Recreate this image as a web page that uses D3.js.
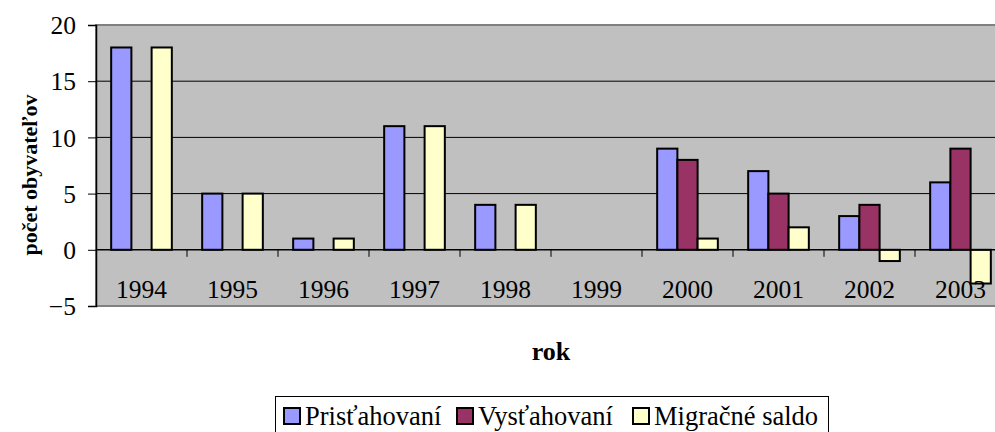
<!DOCTYPE html>
<html>
<head>
<meta charset="utf-8">
<script src="https://cdn.jsdelivr.net/npm/d3@7"></script>
<style>
  body { margin: 0; background: #fff; }
  svg { display: block; }
  svg text { font-family: "Liberation Serif", "Times New Roman", serif; fill: #000; }
</style>
</head>
<body>
<script>
// data
const years = ["1994", "1995", "1996", "1997", "1998", "1999", "2000", "2001", "2002", "2003"];
const seriesNames = ["Prisťahovaní", "Vysťahovaní", "Migračné saldo"];
const pristahovani = [18, 5, 1, 11, 4, 0, 9, 7, 3, 6];
const vystahovani = [0, 0, 0, 0, 0, 0, 8, 5, 4, 9];
const saldo = [18, 5, 1, 11, 4, 0, 1, 2, -1, -3];
const yTicks = [-5, 0, 5, 10, 15, 20];

const colors = ["#9999FF", "#993366", "#FFFFCC"];

const width = 995, height = 432;
const plotLeft = 96, plotTop = 25, plotRight = 1006, plotBottom = 306;

const svg = d3.select("body").append("svg")
    .attr("width", width)
    .attr("height", height);

const x0 = d3.scaleBand()
    .domain(years)
    .range([plotLeft, plotRight]);

const x1 = d3.scaleBand()
    .domain(seriesNames)
    .range([0, x0.bandwidth()])
    .paddingOuter(0.75);

const y = d3.scaleLinear()
    .domain([-5, 20])
    .range([plotBottom, plotTop]);

// plot background
svg.append("rect")
    .attr("x", plotLeft)
    .attr("y", plotTop)
    .attr("width", plotRight - plotLeft)
    .attr("height", plotBottom - plotTop)
    .attr("fill", "#C0C0C0")
    .attr("stroke", "#808080")
    .attr("stroke-width", 2);

// gridlines
svg.append("g")
    .selectAll("line")
    .data([5, 10, 15])
    .enter().append("line")
    .attr("x1", plotLeft)
    .attr("x2", plotRight)
    .attr("y1", d => y(d))
    .attr("y2", d => y(d))
    .attr("stroke", "#000")
    .attr("stroke-width", 1);

// bars
const rows = years.map((yr, i) => ({
    year: yr,
    values: [pristahovani[i], vystahovani[i], saldo[i]]
}));

const groups = svg.append("g")
    .selectAll("g")
    .data(rows)
    .enter().append("g")
    .attr("transform", d => "translate(" + x0(d.year) + ",0)");

groups.selectAll("rect")
    .data(d => d.values.map((v, j) => ({ name: seriesNames[j], value: v, idx: j })).filter(e => e.value !== 0))
    .enter().append("rect")
    .attr("x", d => x1(d.name))
    .attr("width", x1.bandwidth())
    .attr("y", d => y(Math.max(0, d.value)))
    .attr("height", d => Math.abs(y(d.value) - y(0)))
    .attr("fill", d => colors[d.idx])
    .attr("stroke", "#000")
    .attr("stroke-width", 2);

// zero line (category axis)
svg.append("line")
    .attr("x1", plotLeft)
    .attr("x2", plotRight)
    .attr("y1", y(0))
    .attr("y2", y(0))
    .attr("stroke", "#000")
    .attr("stroke-width", 1.5);

// category tick marks
svg.append("g")
    .selectAll("line")
    .data(years.slice(1))
    .enter().append("line")
    .attr("x1", d => x0(d))
    .attr("x2", d => x0(d))
    .attr("y1", y(0))
    .attr("y2", y(0) + 7)
    .attr("stroke", "#000")
    .attr("stroke-width", 1);

// category labels
svg.append("g")
    .selectAll("text")
    .data(years)
    .enter().append("text")
    .attr("x", d => x0(d) + x0.bandwidth() / 2)
    .attr("y", 298)
    .attr("text-anchor", "middle")
    .attr("font-size", 25.5)
    .text(d => d);

// value axis
const yAxis = d3.axisLeft(y)
    .tickValues(yTicks)
    .tickSize(8)
    .tickPadding(12)
    .tickFormat(d3.format("d"));

const ya = svg.append("g")
    .attr("transform", "translate(" + plotLeft + ",0)")
    .call(yAxis);
ya.select(".domain").attr("stroke", "#000").attr("stroke-width", 1.5);
ya.selectAll(".tick line").attr("stroke", "#000");
ya.selectAll(".tick text")
    .attr("font-size", 25.5)
    .attr("dy", "0.34em");

// axis titles
svg.append("text")
    .attr("transform", "translate(37,175) rotate(-90)")
    .attr("text-anchor", "middle")
    .attr("font-size", 22)
    .attr("font-weight", "bold")
    .text("počet obyvateľov");

svg.append("text")
    .attr("x", (plotLeft + plotRight) / 2)
    .attr("y", 360)
    .attr("text-anchor", "middle")
    .attr("font-size", 26)
    .attr("font-weight", "bold")
    .text("rok");

// legend
const legend = svg.append("g");
legend.append("rect")
    .attr("x", 275.5)
    .attr("y", 396.5)
    .attr("width", 553)
    .attr("height", 50)
    .attr("fill", "#fff")
    .attr("stroke", "#000")
    .attr("stroke-width", 1);

const legendX = [284, 457, 633];
const items = legend.selectAll("g.item")
    .data(seriesNames)
    .enter().append("g")
    .attr("class", "item")
    .attr("transform", (d, i) => "translate(" + legendX[i] + ",408)");

items.append("rect")
    .attr("width", 16)
    .attr("height", 16)
    .attr("fill", (d, i) => colors[i])
    .attr("stroke", "#000")
    .attr("stroke-width", 2);

items.append("text")
    .attr("x", 21)
    .attr("y", 17)
    .attr("font-size", 26.5)
    .text(d => d);
</script>
</body>
</html>
